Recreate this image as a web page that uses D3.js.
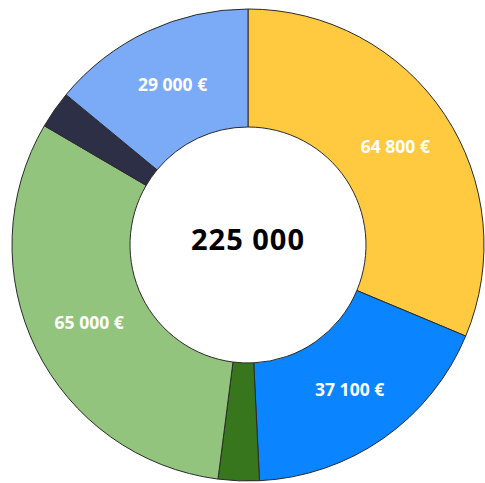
<!DOCTYPE html>
<html>
<head>
<meta charset="utf-8">
<script src="https://cdn.jsdelivr.net/npm/d3@7"></script>
<style>
  html, body { margin: 0; padding: 0; background: #fff; }
  svg { display: block; }
</style>
</head>
<body>
<svg id="donut"></svg>
<script>
// slice data, clockwise from 12 o'clock
const categories = ["A", "B", "C", "D", "E", "F"];
const values = [64800, 37100, 5800, 65000, 5300, 29000];
const labels = ["64 800 €", "37 100 €", "", "65 000 €", "", "29 000 €"];
const colors = ["#ffc940", "#0a84ff", "#38761d", "#93c47d", "#2c2f45", "#7baaf7"];
const totalLabel = "225 000";

var size = { width: 485, height: 483 };
var cx = 248, cy = 245;
var outerR = 236, innerR = 118;

var svg = d3.select("#donut")
    .attr("width", size.width)
    .attr("height", size.height);

var pie = d3.pie().sort(null).value(d => d.value);
var arc = d3.arc().innerRadius(innerR).outerRadius(outerR);

var data = categories.map((c, i) => ({ cat: c, value: values[i], label: labels[i], color: colors[i] }));

var g = svg.append("g").attr("transform", `translate(${cx},${cy})`);

g.selectAll(".slice")
    .data(pie(data))
    .enter()
    .append("path")
    .attr("class", "slice")
    .attr("d", arc)
    .attr("fill", d => d.data.color)
    .attr("stroke", "#2b2b2b")
    .attr("stroke-width", 1);

g.selectAll(".lbl")
    .data(pie(data))
    .enter()
    .append("text")
    .attr("class", "lbl")
    .attr("x", d => arc.centroid(d)[0])
    .attr("y", d => arc.centroid(d)[1])
    .attr("dy", "0.35em")
    .attr("text-anchor", "middle")
    .attr("fill", "#fff")
    .style("font-family", "'Open Sans', sans-serif")
    .style("font-weight", 700)
    .style("font-size", "17.5px")
    .text(d => d.data.label);

// total in the hole
g.append("text")
    .attr("x", 0)
    .attr("y", 5)
    .attr("text-anchor", "middle")
    .attr("fill", "#000")
    .style("font-family", "'Open Sans', sans-serif")
    .style("font-weight", 700)
    .style("font-size", "29px")
    .style("letter-spacing", "1px")
    .text(totalLabel);
</script>
</body>
</html>
